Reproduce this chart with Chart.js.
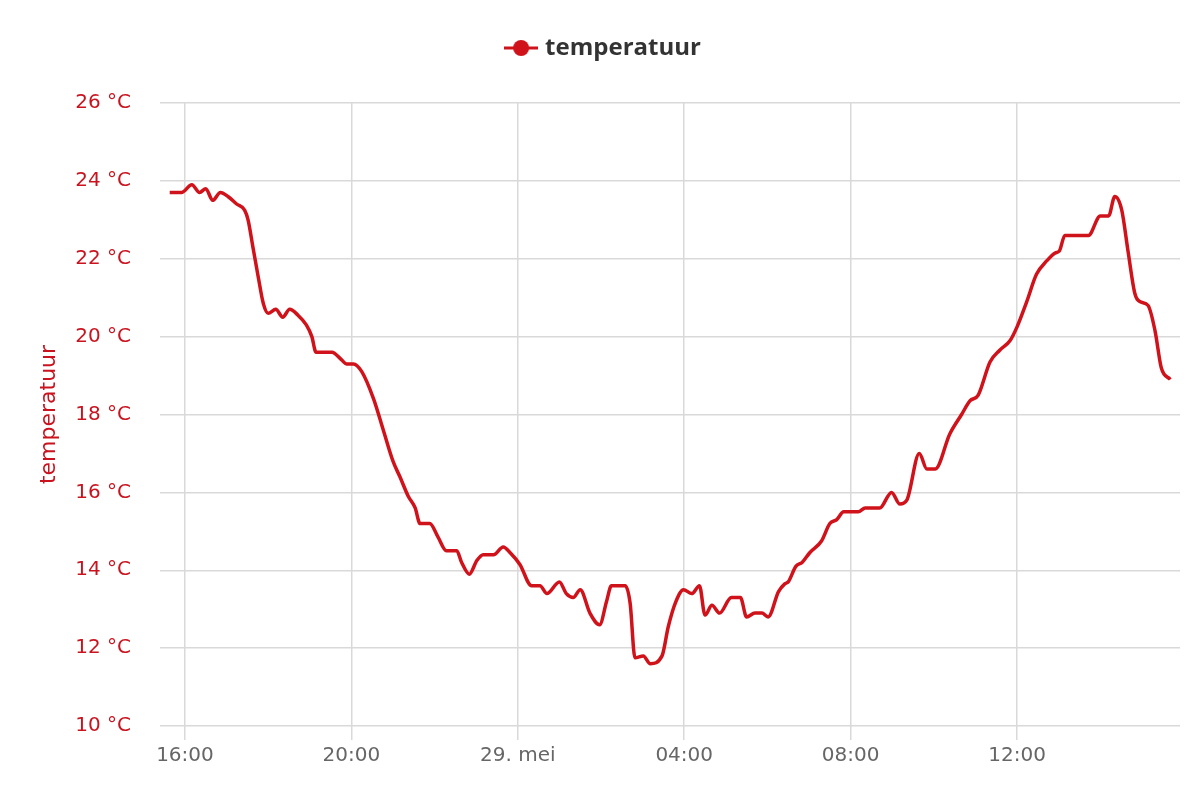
<!DOCTYPE html>
<html>
<head>
<meta charset="utf-8">
<script src="https://cdn.jsdelivr.net/npm/chart.js@4"></script>
<style>
    html, body { margin: 0; padding: 0; background: #fff; }
    #wrap { width: 1200px; height: 800px; }
</style>
</head>
<body>
<div id="wrap"><canvas id="temp-chart"></canvas></div>
<script>
// tijd in minuten vanaf 28 mei 00:00
const minutes = [
    938, 955, 970, 981, 990, 1000, 1011, 1022, 1035, 1046, 1051, 1058, 1066, 1073, 1080,
    1091, 1101, 1111, 1123, 1135, 1143, 1149, 1172, 1186, 1193, 1203, 1215, 1232, 1246, 1260,
    1270, 1282, 1292, 1299, 1313, 1325, 1337, 1352, 1359, 1370, 1381, 1390, 1405, 1419, 1429,
    1443, 1460, 1472, 1482, 1500, 1510, 1520, 1530, 1544, 1558, 1568, 1575, 1595, 1602, 1609,
    1621, 1631, 1648, 1657, 1667, 1679, 1691, 1702, 1710, 1720, 1731, 1748, 1761, 1770, 1782,
    1792, 1801, 1816, 1825, 1830, 1841, 1850, 1861, 1878, 1890, 1900, 1910, 1931, 1941, 1962,
    1979, 1991, 2001, 2019, 2030, 2042, 2063, 2080, 2092, 2104, 2121, 2135, 2150, 2160, 2174,
    2188, 2203, 2215, 2221, 2229, 2263, 2280, 2292, 2301, 2311, 2320, 2330, 2337, 2349, 2359,
    2368, 2381
];
const temperature = [
    23.7, 23.7, 23.9, 23.7, 23.8, 23.5, 23.7, 23.6, 23.4, 23.25, 23.0, 22.3, 21.5, 20.85, 20.6,
    20.7, 20.5, 20.7, 20.55, 20.3, 20.0, 19.6, 19.6, 19.4, 19.3, 19.3, 19.1, 18.4, 17.6, 16.8,
    16.4, 15.9, 15.6, 15.2, 15.2, 14.85, 14.5, 14.5, 14.2, 13.9, 14.25, 14.4, 14.4, 14.6, 14.45,
    14.15, 13.6, 13.6, 13.4, 13.7, 13.4, 13.3, 13.5, 12.9, 12.6, 13.2, 13.6, 13.6, 13.15, 11.75,
    11.8, 11.6, 11.8, 12.55, 13.15, 13.5, 13.4, 13.6, 12.85, 13.1, 12.9, 13.3, 13.3, 12.8, 12.9,
    12.9, 12.8, 13.45, 13.65, 13.7, 14.1, 14.2, 14.45, 14.75, 15.2, 15.3, 15.5, 15.5, 15.6, 15.6,
    16.0, 15.7, 15.8, 17.0, 16.6, 16.6, 17.5, 18.0, 18.35, 18.5, 19.35, 19.65, 19.9, 20.25, 20.9,
    21.6, 21.95, 22.15, 22.2, 22.6, 22.6, 23.1, 23.1, 23.6, 23.25, 22.2, 21.1, 20.9, 20.8, 20.15,
    19.2, 18.9
];
const tickMinutes = [960, 1200, 1440, 1680, 1920, 2160];
const tickLabels = ["16:00", "20:00", "29. mei", "04:00", "08:00", "12:00"];

const RED = "#d0121b";
const LABEL_RED = "#c9141f";
const GRID = "#d9d9d9";

// legend-symbool: lijntje met bolletje
const legendIcon = document.createElement("canvas");
legendIcon.width = 34;
legendIcon.height = 18;
const ictx = legendIcon.getContext("2d");
ictx.strokeStyle = RED;
ictx.lineWidth = 3;
ictx.beginPath();
ictx.moveTo(0, 9);
ictx.lineTo(34, 9);
ictx.stroke();
ictx.fillStyle = RED;
ictx.beginPath();
ictx.arc(17, 9, 8, 0, Math.PI * 2);
ictx.fill();

// legenda hoger maken zodat het plotgebied op dezelfde plek begint,
// en iets naar rechts schuiven (midden van het plotgebied)
const legendPlace = {
    id: "legendPlace",
    afterInit(chart) {
        const legend = chart.legend;
        if (!legend) return;
        const fit = legend.fit;
        legend.fit = function () {
            fit.call(this);
            this.height = 77;
        };
        const draw = legend.draw;
        legend.draw = function () {
            const c = this.ctx;
            c.save();
            c.translate(15, 0);
            draw.call(this);
            c.restore();
        };
    },
};

const ctx = document.querySelector("#temp-chart").getContext("2d");
const tempChart = new Chart(ctx, {
    type: "line",
    data: {
        datasets: [
            {
                label: "temperatuur",
                data: minutes.map((m, i) => ({ x: m, y: temperature[i] })),
                borderColor: RED,
                backgroundColor: RED,
                borderWidth: 3.5,
                pointRadius: 0,
                cubicInterpolationMode: "monotone",
                fill: false,
            },
        ],
    },
    options: {
        responsive: true,
        maintainAspectRatio: false,
        animation: false,
        layout: {
            padding: { top: 26, right: 20, bottom: 0, left: 0 },
        },
        scales: {
            x: {
                type: "linear",
                min: 924,
                max: 2395,
                afterBuildTicks: (axis) => {
                    axis.ticks = tickMinutes.map((v) => ({ value: v }));
                },
                afterFit: (axis) => {
                    axis.height = 74;
                },
                ticks: {
                    color: "#666666",
                    font: { family: "DejaVu Sans", size: 20 },
                    padding: 4,
                    maxRotation: 0,
                    autoSkip: false,
                    callback: (value) => {
                        const i = tickMinutes.indexOf(value);
                        return i >= 0 ? tickLabels[i] : "";
                    },
                },
                grid: {
                    color: GRID,
                    lineWidth: 1.5,
                    tickLength: 14,
                },
                border: { display: false },
            },
            y: {
                min: 10,
                max: 26,
                afterFit: (axis) => {
                    axis.width = 160;
                },
                ticks: {
                    stepSize: 2,
                    color: LABEL_RED,
                    font: { family: "DejaVu Sans", size: 20 },
                    padding: 29,
                    callback: (value) => value + " °C",
                },
                grid: {
                    color: GRID,
                    lineWidth: 1.5,
                    drawTicks: false,
                },
                border: { display: false },
                title: {
                    display: true,
                    text: "temperatuur",
                    color: LABEL_RED,
                    font: { family: "DejaVu Sans", size: 22 },
                    padding: { top: 36, bottom: 0 },
                },
            },
        },
        plugins: {
            legend: {
                labels: {
                    color: "#333333",
                    font: { family: "Open Sans", size: 24, weight: "bold" },
                    usePointStyle: true,
                    pointStyle: legendIcon,
                    padding: 10,
                },
            },
            tooltip: { enabled: false },
        },
    },
    plugins: [legendPlace],
});
</script>
</body>
</html>
